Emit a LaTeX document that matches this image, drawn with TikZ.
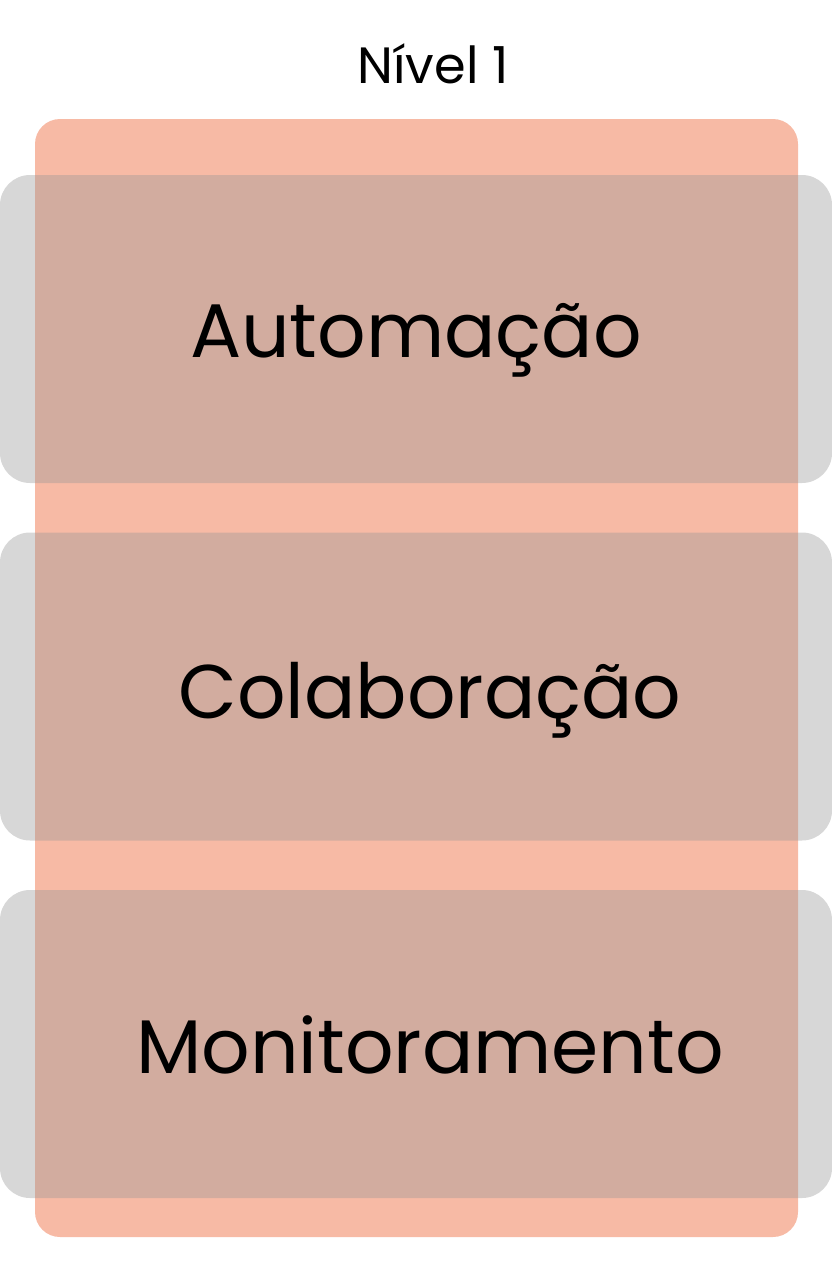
\documentclass[tikz,border=0pt]{standalone}
\usepackage{fontspec}
\setmainfont{Poppins}
\usepackage{tikz}
\usetikzlibrary{positioning}
\definecolor{salmon}{RGB}{247,186,165}
\definecolor{bandgray}{RGB}{150,150,150}

\begin{document}
\begin{tikzpicture}[x=1pt, y=-1pt]
\useasboundingbox (0,0) rectangle (832,1261);

\node[inner sep=0pt, anchor=base] (title) at (433,83) {\fontsize{51}{60}\selectfont Nível 1};

\node[fill=salmon, rounded corners=25pt, inner sep=0pt, outer sep=0pt,
      minimum width=763pt, minimum height=1118pt] (panel) at (416.5,678) {};

\begin{scope}[every node/.style={fill=bandgray, fill opacity=0.38, rounded corners=30pt,
              inner sep=0pt, outer sep=0pt, minimum width=832pt, minimum height=308pt}]
    \node (A) at (416,329) {};
    \node (C) at (416,686.5) {};
    \node (M) at (416,1044) {};
\end{scope}

\begin{scope}[every node/.style={inner sep=0pt, anchor=base, font=\fontsize{76}{90}\selectfont}]
    \node (autom) at (416,357) {Automação};
    \node (colab) at (430,718) {Colaboração};
    \node (monit) at (430,1073) {Monitoramento};
\end{scope}

\end{tikzpicture}
\end{document}
